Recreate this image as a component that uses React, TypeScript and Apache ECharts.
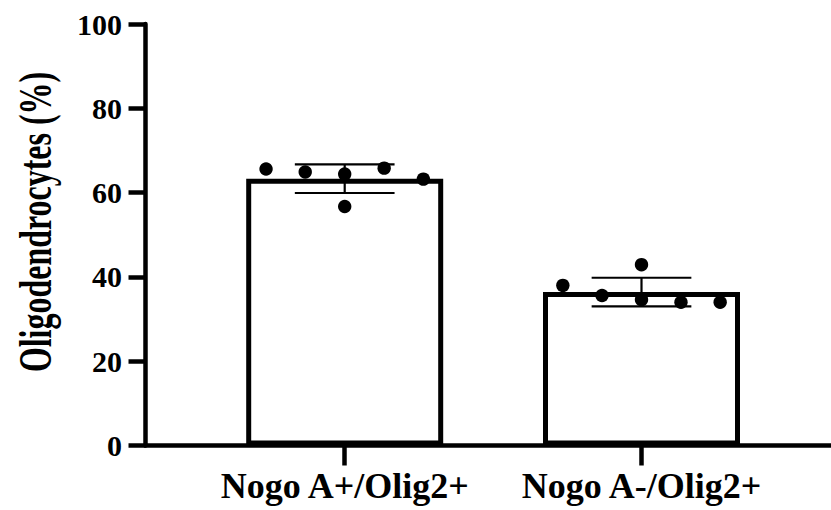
import React, { useEffect, useRef } from "react";
import * as echarts from "echarts";

const categories = ["Nogo A+/Olig2+", "Nogo A-/Olig2+"];
const means = [63.3, 36.4];
const sds = [3.4, 3.4];
const dotsA = [65.6, 64.9, 64.4, 56.7, 65.8, 63.2];
const dotsB = [38.0, 35.6, 42.9, 34.6, 34.0, 34.0];
const jitter = [-0.265, -0.133, 0, 0, 0.133, 0.265];
const yLabel = "Oligodendrocytes (%)";

const FONT = "Liberation Serif";

export default function App() {
  const ref = useRef<HTMLDivElement>(null);
  useEffect(() => {
    if (!ref.current) return;
    const chart = echarts.init(ref.current, undefined, { renderer: "svg" });
    const dotData: number[][] = [];
    [dotsA, dotsB].forEach((arr, ci) => {
      arr.forEach((v, k) => dotData.push([ci, v, jitter[k]]));
    });
    const errData = categories.map((_, i) => [i, means[i], sds[i]]);
    chart.setOption({
      animation: false,
      backgroundColor: "#ffffff",
      grid: [
        { left: 145.5, right: 0, top: 24, bottom: 64.5 },
        { left: 196.3, right: 41.1, top: 24, bottom: 64.5 },
      ],
      xAxis: [
        {
          type: "value",
          gridIndex: 0,
          min: 0,
          max: 1,
          axisLine: { show: true, lineStyle: { color: "#000", width: 4.5 } },
          axisTick: { show: false },
          axisLabel: { show: false },
          splitLine: { show: false },
        },
        {
          type: "category",
          gridIndex: 1,
          data: categories,
          axisLine: { show: false },
          axisTick: {
            show: true,
            alignWithLabel: true,
            interval: 0,
            length: 20,
            lineStyle: { color: "#000", width: 4.5 },
          },
          axisLabel: {
            interval: 0,
            hideOverlap: false,
            color: "#000",
            fontFamily: FONT,
            fontWeight: "bold",
            fontSize: 36,
            lineHeight: 36,
            margin: 22,
          },
        },
      ],
      yAxis: [
        {
          type: "value",
          gridIndex: 0,
          min: 0,
          max: 100,
          interval: 20,
          axisLine: { show: true, lineStyle: { color: "#000", width: 4.5 } },
          axisTick: { show: true, length: 17, lineStyle: { color: "#000", width: 4.5 } },
          axisLabel: {
            color: "#000",
            fontFamily: FONT,
            fontWeight: "bold",
            fontSize: 30,
            margin: 23.5,
          },
          splitLine: { show: false },
        },
        { type: "value", gridIndex: 1, min: 0, max: 100, show: false },
      ],
      graphic: [
        {
          type: "text",
          x: 35,
          y: 222,
          rotation: Math.PI / 2,
          scaleX: 0.68,
          style: {
            text: yLabel,
            fill: "#000",
            fontFamily: FONT,
            fontWeight: "bold",
            fontSize: 47,
            textAlign: "center",
            textVerticalAlign: "middle",
          },
        },
      ],
      series: [
        {
          type: "bar",
          xAxisIndex: 1,
          yAxisIndex: 1,
          data: means,
          barWidth: 197,
          z: 2,
          itemStyle: { color: "#fff", borderColor: "#000", borderWidth: 5 },
        },
        {
          type: "custom",
          xAxisIndex: 1,
          yAxisIndex: 1,
          z: 3,
          data: errData,
          encode: { x: 0, y: 1 },
          renderItem: (params: any, api: any) => {
            const i = api.value(0);
            const m = api.value(1);
            const sd = api.value(2);
            const top = api.coord([i, m + sd]);
            const bot = api.coord([i, m - sd]);
            const half = api.size([1, 0])[0] * 0.168;
            const st = { stroke: "#000", lineWidth: 2.2 };
            return {
              type: "group",
              children: [
                { type: "line", shape: { x1: top[0], y1: top[1], x2: bot[0], y2: bot[1] }, style: st },
                { type: "line", shape: { x1: top[0] - half, y1: top[1], x2: top[0] + half, y2: top[1] }, style: st },
                { type: "line", shape: { x1: bot[0] - half, y1: bot[1], x2: bot[0] + half, y2: bot[1] }, style: st },
              ],
            };
          },
        },
        {
          type: "custom",
          xAxisIndex: 1,
          yAxisIndex: 1,
          z: 4,
          data: dotData,
          encode: { x: 0, y: 1 },
          renderItem: (params: any, api: any) => {
            const p = api.coord([api.value(0), api.value(1)]);
            const bw = api.size([1, 0])[0];
            return {
              type: "circle",
              shape: { cx: p[0] + api.value(2) * bw, cy: p[1], r: 6.7 },
              style: { fill: "#000" },
            };
          },
        },
      ],
    });
    return () => chart.dispose();
  }, []);
  return (
    <div
      ref={ref}
      style={{ position: "absolute", left: 0, top: 0, width: 831, height: 510, background: "#fff" }}
    />
  );
}
